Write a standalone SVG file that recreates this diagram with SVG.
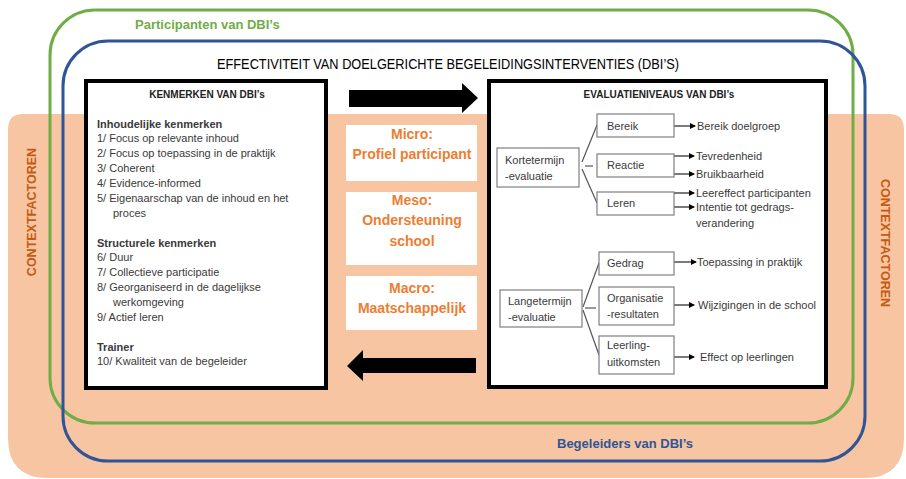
<svg xmlns="http://www.w3.org/2000/svg" width="906" height="479" viewBox="0 0 906 479">
<defs>
<marker id="ah" markerWidth="6" markerHeight="6" refX="5" refY="3" orient="auto" markerUnits="userSpaceOnUse">
<path d="M0,0 L6,3 L0,6 Z" fill="#000"/>
</marker>
<style>
text{font-family:"Liberation Sans",Arial,sans-serif;}
.t{font-size:11px;fill:#3a3a3a;}
.b{font-weight:bold;}
.hd{font-size:10px;font-weight:bold;fill:#222;text-anchor:middle;}
.or{font-size:14px;font-weight:bold;fill:#ed7d31;text-anchor:middle;}
.ctx{font-size:12.5px;font-weight:bold;fill:#c55a11;text-anchor:middle;}
.sb{fill:#fff;stroke:#7f7f7f;stroke-width:1.2;}
.bigbox{fill:#fff;stroke:#000;stroke-width:4;}
.wb{fill:#fff;}
.ln{stroke:#555;stroke-width:1.2;fill:none;}
.ar{stroke:#222;stroke-width:1.2;fill:none;marker-end:url(#ah);}
</style>
</defs>
<rect x="0" y="0" width="906" height="479" fill="#fff"/>
<g id="background">
<path d="M8,129 Q8,114 23,114 L889,114 Q904,114 904,129 L904,438 Q904,478 864,478 L48,478 Q8,478 8,438 Z" fill="#f7c5a2"/>
<text class="ctx" transform="translate(36,212) rotate(-90)">CONTEXTFACTOREN</text>
<text class="ctx" transform="translate(881,243) rotate(90)">CONTEXTFACTOREN</text>
</g>
<g id="participanten">
<rect x="50" y="10" width="803" height="413" rx="45" fill="none" stroke="#70ad47" stroke-width="3"/>
<text x="135" y="29" font-size="13" font-weight="bold" fill="#70ad47">Participanten van DBI’s</text>
</g>
<g id="begeleiders">
<rect x="63" y="41" width="802" height="420" rx="45" fill="none" stroke="#2f5597" stroke-width="3"/>
<text x="557" y="448" font-size="13" font-weight="bold" fill="#2f5597">Begeleiders van DBI’s</text>
</g>
<text id="title" x="448" y="69" font-size="14.5" fill="#000" text-anchor="middle" textLength="462" lengthAdjust="spacingAndGlyphs">EFFECTIVITEIT VAN DOELGERICHTE BEGELEIDINGSINTERVENTIES (DBI’S)</text>
<g id="kenmerken">
<rect class="bigbox" x="86" y="81" width="240" height="307"/>
<text class="hd" x="207" y="98">KENMERKEN VAN DBI’s</text>
<text class="t b" x="97" y="128">Inhoudelijke kenmerken</text>
<text class="t" x="97" y="142">1/ Focus op relevante inhoud</text>
<text class="t" x="97" y="157">2/ Focus op toepassing in de praktijk</text>
<text class="t" x="97" y="172">3/ Coherent</text>
<text class="t" x="97" y="187">4/ Evidence-informed</text>
<text class="t" x="97" y="202">5/ Eigenaarschap van de inhoud en het</text>
<text class="t" x="113" y="217">proces</text>
<text class="t b" x="97" y="247">Structurele kenmerken</text>
<text class="t" x="97" y="261">6/ Duur</text>
<text class="t" x="97" y="276">7/ Collectieve participatie</text>
<text class="t" x="97" y="291">8/ Georganiseerd in de dagelijkse</text>
<text class="t" x="113" y="306">werkomgeving</text>
<text class="t" x="97" y="321">9/ Actief leren</text>
<text class="t b" x="97" y="351">Trainer</text>
<text class="t" x="97" y="365">10/ Kwaliteit van de begeleider</text>
</g>
<g id="big-arrows">
<path d="M349,90 L462,90 L462,83 L478,98 L462,113 L462,107 L349,107 Z" fill="#000"/>
<path d="M476,358 L363,358 L363,350 L347,366 L363,381 L363,373 L476,373 Z" fill="#000"/>
</g>
<g id="micro">
<rect class="wb" x="346" y="125" width="131" height="56"/>
<text class="or" x="412" y="139">Micro:</text>
<text class="or" x="412" y="159">Profiel participant</text>
</g>
<g id="meso">
<rect class="wb" x="346" y="192" width="131" height="73"/>
<text class="or" x="412" y="205">Meso:</text>
<text class="or" x="412" y="225">Ondersteuning</text>
<text class="or" x="412" y="246">school</text>
</g>
<g id="macro">
<rect class="wb" x="346" y="276" width="131" height="54"/>
<text class="or" x="412" y="293">Macro:</text>
<text class="or" x="412" y="313">Maatschappelijk</text>
</g>
<g id="evaluatieniveaus">
<rect class="bigbox" x="489" y="81" width="337" height="306"/>
<text class="hd" x="659" y="98">EVALUATIENIVEAUS VAN DBI’s</text>
</g>
<g id="connectors">
<path class="ln" d="M582,162 L597,125"/>
<path class="ln" d="M585,166 L593,166"/>
<path class="ln" d="M582,169 L597,203"/>
<path class="ln" d="M583,307 L599,263"/>
<path class="ln" d="M585,308 L596,308"/>
<path class="ln" d="M583,310 L599,355"/>
<path class="ar" d="M674,126 L695,126"/>
<path class="ar" d="M674,156 L694,156"/>
<path class="ar" d="M674,174 L694,174"/>
<path class="ar" d="M674,193 L694,193"/>
<path class="ar" d="M674,207 L694,207"/>
<path class="ar" d="M674,262 L696,262"/>
<path class="ar" d="M674,305 L694,305"/>
<path class="ar" d="M674,357 L694,357"/>
</g>
<g id="kortetermijn">
<rect class="sb" x="497" y="148" width="82" height="39"/>
<text class="t" x="505" y="164">Kortetermijn</text>
<text class="t" x="505" y="180">-evaluatie</text>
</g>
<g id="bereik">
<rect class="sb" x="597" y="114" width="77" height="23"/>
<text class="t" x="607" y="130">Bereik</text>
<text class="t" x="697" y="130">Bereik doelgroep</text>
</g>
<g id="reactie">
<rect class="sb" x="597" y="154" width="77" height="23"/>
<text class="t" x="607" y="169">Reactie</text>
<text class="t" x="696" y="160">Tevredenheid</text>
<text class="t" x="696" y="178">Bruikbaarheid</text>
</g>
<g id="leren">
<rect class="sb" x="597" y="192" width="77" height="23"/>
<text class="t" x="607" y="207">Leren</text>
<text class="t" x="696" y="197">Leereffect participanten</text>
<text class="t" x="696" y="211">Intentie tot gedrags-</text>
<text class="t" x="696" y="227">verandering</text>
</g>
<g id="langetermijn">
<rect class="sb" x="500" y="290" width="82" height="37"/>
<text class="t" x="508" y="305">Langetermijn</text>
<text class="t" x="508" y="321">-evaluatie</text>
</g>
<g id="gedrag">
<rect class="sb" x="599" y="252" width="75" height="23"/>
<text class="t" x="607" y="267">Gedrag</text>
<text class="t" x="697" y="266">Toepassing in praktijk</text>
</g>
<g id="organisatie">
<rect class="sb" x="599" y="287" width="75" height="38"/>
<text class="t" x="607" y="302">Organisatie</text>
<text class="t" x="607" y="318">-resultaten</text>
<text class="t" x="698" y="309">Wijzigingen in de school</text>
</g>
<g id="leerling">
<rect class="sb" x="599" y="336" width="75" height="38"/>
<text class="t" x="607" y="349">Leerling-</text>
<text class="t" x="607" y="366">uitkomsten</text>
<text class="t" x="700" y="361">Effect op leerlingen</text>
</g>
</svg>
